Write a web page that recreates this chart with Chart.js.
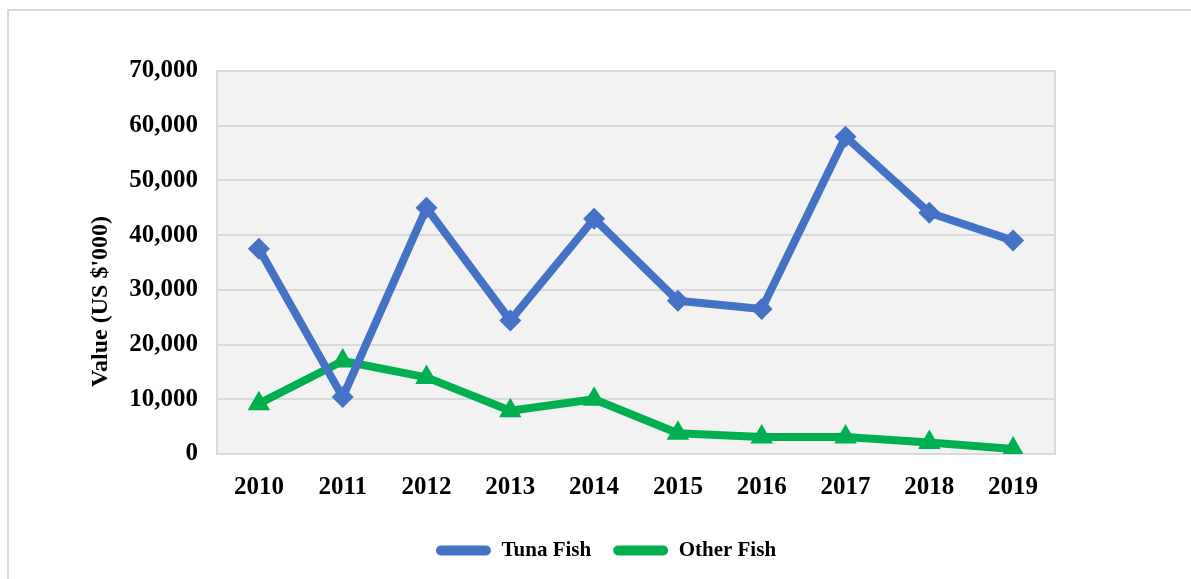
<!DOCTYPE html>
<html>
<head>
<meta charset="utf-8">
<script src="https://cdn.jsdelivr.net/npm/chart.js@4.4.1/dist/chart.umd.min.js"></script>
<style>
    html, body { margin: 0; padding: 0; background: #ffffff; }
    #wrap { position: relative; width: 1191px; height: 579px; }
</style>
</head>
<body>
<div id="wrap"><canvas id="fish-chart"></canvas></div>
<script>
// Export value of fish, US $'000
const years = ['2010', '2011', '2012', '2013', '2014', '2015', '2016', '2017', '2018', '2019'];
const tunaFish = [37500, 10400, 45000, 24400, 43000, 28000, 26500, 58000, 44100, 39000];
const otherFish = [9200, 17000, 14000, 7900, 10000, 3800, 3100, 3100, 2100, 900];
const yTicks = [0, 10000, 20000, 30000, 40000, 50000, 60000, 70000];

const TUNA_COLOR = '#4472C4';
const OTHER_COLOR = '#00B050';
const GRID_COLOR = '#D9D9D9';
const FONT = "'Liberation Serif', 'Times New Roman', serif";

// plot background + outer frame, like the Excel chart
const framePlugin = {
    id: 'frame',
    beforeDraw(chart) {
        const { ctx, chartArea: a } = chart;
        ctx.save();
        ctx.strokeStyle = GRID_COLOR;
        ctx.lineWidth = 2;
        ctx.strokeRect(8, 10, 1300, 700);
        ctx.fillStyle = '#F2F2F2';
        ctx.fillRect(a.left, a.top, a.right - a.left, a.bottom - a.top);
        ctx.restore();
    },
    beforeDatasetsDraw(chart) {
        const { ctx, chartArea: a } = chart;
        ctx.save();
        ctx.strokeStyle = GRID_COLOR;
        ctx.lineWidth = 2;
        ctx.strokeRect(a.left, a.top, a.right - a.left, a.bottom - a.top);
        ctx.restore();
    }
};

// trailing spaces push the rotated title down a bit, as in the original
const yTitle = "Value (US $'000)" + '\u00A0'.repeat(13);

new Chart(document.getElementById('fish-chart'), {
    type: 'line',
    data: {
        labels: years,
        datasets: [
            {
                label: 'Tuna Fish',
                data: tunaFish,
                borderColor: TUNA_COLOR,
                backgroundColor: TUNA_COLOR,
                borderWidth: 8,
                tension: 0,
                pointStyle: 'rectRot',
                pointRadius: 11,
                pointBorderWidth: 0,
                pointBackgroundColor: TUNA_COLOR,
                borderJoinStyle: 'round'
            },
            {
                label: 'Other Fish',
                data: otherFish,
                borderColor: OTHER_COLOR,
                backgroundColor: OTHER_COLOR,
                borderWidth: 8,
                tension: 0,
                pointStyle: 'triangle',
                pointRadius: 13,
                pointBorderWidth: 0,
                pointBackgroundColor: OTHER_COLOR,
                borderJoinStyle: 'round'
            }
        ]
    },
    options: {
        responsive: true,
        maintainAspectRatio: false,
        animation: false,
        layout: { padding: { left: 82, right: 61, top: 71, bottom: 8 } },
        scales: {
            x: {
                offset: true,
                grid: { display: false, drawTicks: false },
                border: { display: false },
                ticks: {
                    color: '#000',
                    padding: 19,
                    font: { family: FONT, size: 25, weight: 'bold' }
                },
                afterFit(scale) { scale.height = 64; }
            },
            y: {
                min: 0,
                max: 70000,
                afterBuildTicks(scale) { scale.ticks = yTicks.map(v => ({ value: v })); },
                grid: { color: GRID_COLOR, lineWidth: 2, drawTicks: false },
                border: { display: false },
                ticks: {
                    color: '#000',
                    padding: 19,
                    font: { family: FONT, size: 25, weight: 'bold' },
                    callback: v => v.toLocaleString('en-US')
                },
                title: {
                    display: true,
                    text: yTitle,
                    color: '#000',
                    font: { family: FONT, size: 24, weight: 'bold' },
                    padding: { top: 4, bottom: 4 }
                },
                afterFit(scale) { scale.width = 135; }
            },
            // empty right-hand strip so the legend centres like the original
            yPad: {
                position: 'right',
                grid: { display: false, drawTicks: false },
                border: { display: false },
                ticks: { display: false },
                afterFit(scale) { scale.width = 75; }
            }
        },
        plugins: {
            tooltip: { enabled: false },
            legend: {
                position: 'bottom',
                labels: {
                    color: '#000',
                    boxWidth: 55,
                    boxHeight: 10,
                    padding: 22,
                    useBorderRadius: true,
                    borderRadius: 5,
                    font: { family: FONT, size: 21, weight: 'bold' },
                    generateLabels(chart) {
                        return chart.data.datasets.map((ds, i) => ({
                            text: ds.label,
                            fillStyle: ds.borderColor,
                            strokeStyle: ds.borderColor,
                            lineWidth: 0,
                            borderRadius: 5,
                            fontColor: '#000',
                            datasetIndex: i,
                            hidden: false
                        }));
                    }
                }
            }
        }
    },
    plugins: [framePlugin]
});
</script>
</body>
</html>
